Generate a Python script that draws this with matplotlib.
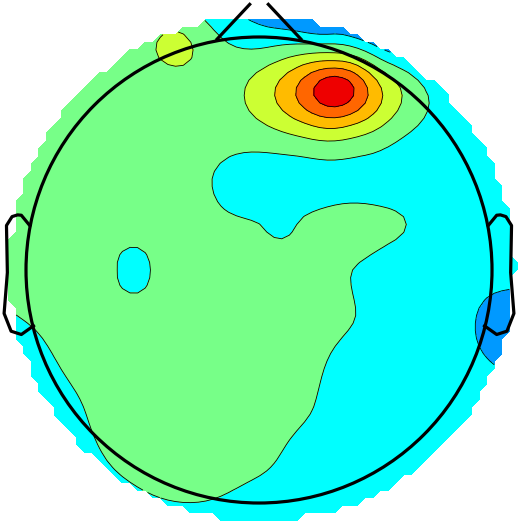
import numpy as np
import matplotlib
matplotlib.use("Agg")
import matplotlib.pyplot as plt
from matplotlib.patches import Circle

# ---------------- data (head radius = 0.5, nose up) ----------------
# regular scalp grid of electrodes, 0.1 spacing, rows from front to back
row_y = [0.5, 0.4, 0.3, 0.2, 0.1, 0.0, -0.1, -0.2, -0.3, -0.4, -0.5]
row_x0 = [-0.2, -0.3, -0.4, -0.5, -0.5, -0.5, -0.5, -0.5, -0.4, -0.3, -0.2]
row_vals = [
    [0.6, -0.3, -1.05, -1.15, -1.5],
    [0.0, 0.0, 0.0, 0.85, 2.9, 3.5, 0.45],
    [0.0, 0.0, 0.0, -0.1, 0.2, 1.0, 1.05, -0.2, -1.0],
    [0.0, 0.0, 0.0, 0.0, -0.5, -1.0, -1.0, -0.9, -1.0, -1.1, -1.1],
    [0.0, 0.0, 0.0, 0.0, -0.3, -0.5, -0.35, -0.1, -0.4, -1.0, -1.2],
    [0.0, 0.0, -0.55, 0.0, 0.0, 0.0, 0.0, -0.5, -1.0, -1.1, -1.3],
    [-0.4, 0.0, 0.0, 0.0, 0.0, 0.0, 0.0, -0.45, -1.0, -1.1, -1.7],
    [-1.0, -0.3, 0.0, 0.0, 0.0, 0.0, -0.2, -0.9, -1.0, -1.1, -1.5],
    [-0.7, 0.0, 0.0, 0.0, 0.0, -0.4, -1.0, -1.0, -1.1],
    [-0.3, 0.0, 0.0, -0.2, -0.9, -1.0, -1.0],
    [-0.55, -0.55, -0.9, -1.0, -1.0],
]
grid_step = 0.1

# rim electrodes (radius 0.54), angle in degrees counter-clockwise from right
rim_radius = 0.54
rim_angle = [0, 15, 30, 45, 60, 75, 90, 105, 120, 135, 150, 165,
             180, 195, 210, 225, 240, 255, 270, 285, 300, 315, 330, 345]
rim_vals = [-1.3, -1.1, -1.1, -0.8, -1.35, -2.2, -1.7, 0.0, 0.0, 0.0, 0.0, 0.0,
            0.0, -0.9, -1.0, -0.8, -0.55, -0.65, -1.0, -1.0, -1.0, -1.0, -1.0, -1.8]

# extra electrodes: frontal peak, two small blobs, cyan finger, frontal blue band
extra_x = [0.159, 0.105, 0.213, 0.051, 0.266, 0.159, 0.159, 0.159, 0.159,
           -0.180, -0.285, 0.050, 0.088, 0.174]
extra_y = [0.384, 0.384, 0.384, 0.384, 0.384, 0.416, 0.352, 0.448, 0.320,
           0.481, 0.000, 0.085, 0.519, 0.511]
extra_v = [4.3, 3.2, 3.25, 1.85, 1.45, 3.55, 3.6, 1.55, 2.2,
           0.9, -0.95, -0.65, -1.75, -1.7]

# contour levels and fill colours (jet-like)
levels = [-10, -1.5, -0.5, 0.5, 1.5, 2.5, 3.5, 10]
fill_colors = ['#0099FF', '#00FFFF', '#77FF88', '#CCFF33', '#FFBB00', '#FF6600', '#EE0000']

# ---------------- assemble electrodes ----------------
ex, ey, ev = [], [], []
for y, x0, vals in zip(row_y, row_x0, row_vals):
    for k, v in enumerate(vals):
        ex.append(x0 + k * grid_step)
        ey.append(y)
        ev.append(v)
for a, v in zip(rim_angle, rim_vals):
    ex.append(rim_radius * np.cos(np.deg2rad(a)))
    ey.append(rim_radius * np.sin(np.deg2rad(a)))
    ev.append(v)
ex += extra_x
ey += extra_y
ev += extra_v
ex = np.array(ex); ey = np.array(ey); ev = np.array(ev)


def green(d):
    out = np.zeros_like(d)
    nz = d > 0
    out[nz] = d[nz] ** 2 * (np.log(d[nz]) - 1)
    return out


# biharmonic (v4) interpolation
D = np.hypot(ex[:, None] - ex[None, :], ey[:, None] - ey[None, :])
w = np.linalg.solve(green(D), ev)

intrad = 0.57
maskrad = 0.548
mask_cx, mask_cy = 0.006, 0.003
n = 71
gx = np.linspace(-intrad, intrad, n)
GX, GY = np.meshgrid(gx, gx)
Dg = np.hypot(GX.ravel()[:, None] - ex[None, :], GY.ravel()[:, None] - ey[None, :])
Z = (green(Dg) @ w).reshape(GX.shape)
Z[np.hypot(GX - mask_cx, GY - mask_cy) > maskrad] = np.nan

# ---------------- figure ----------------
fig = plt.figure(figsize=(5.21, 5.21), dpi=100)
ax = fig.add_axes([0, 0, 1, 1])
ax.set_xlim(-0.5558, 0.5622)
ax.set_ylim(-0.5386, 0.5794)
ax.set_aspect('equal')
ax.axis('off')

ax.contourf(GX, GY, Z, levels=levels, colors=fill_colors)
ax.contour(GX, GY, Z, levels=levels[1:-1], colors='k', linewidths=0.6,
           linestyles='solid')

lw = 2.3
ax.add_patch(Circle((0, 0), 0.5, fill=False, ec='k', lw=lw))

# nose (tip runs off the top of the picture)
rmax = 0.5
base = rmax - 0.0046
basex = 0.18 * rmax
tip = 1.15 * rmax
tiphw = 0.04 * rmax
tipr = 0.01 * rmax
ax.plot([basex, tiphw], [base, tip - tipr], color='k', lw=lw)
ax.plot([-basex, -tiphw], [base, tip - tipr], color='k', lw=lw)

# ears
q = 0.04
ear_x = np.array([.497 - .005, .510, .518, .5299, .5419, .54, .547, .532, .510, .489 - .005])
ear_y = np.array([q + .0555, q + .0775, q + .0783, q + .0746, q + .0555,
                  -.0055, -.0932, -.1313, -.1384, -.1199])
ax.plot(ear_x, ear_y, color='k', lw=lw)
ax.plot(-ear_x, ear_y, color='k', lw=lw)

fig.savefig('out.png', dpi=100)
